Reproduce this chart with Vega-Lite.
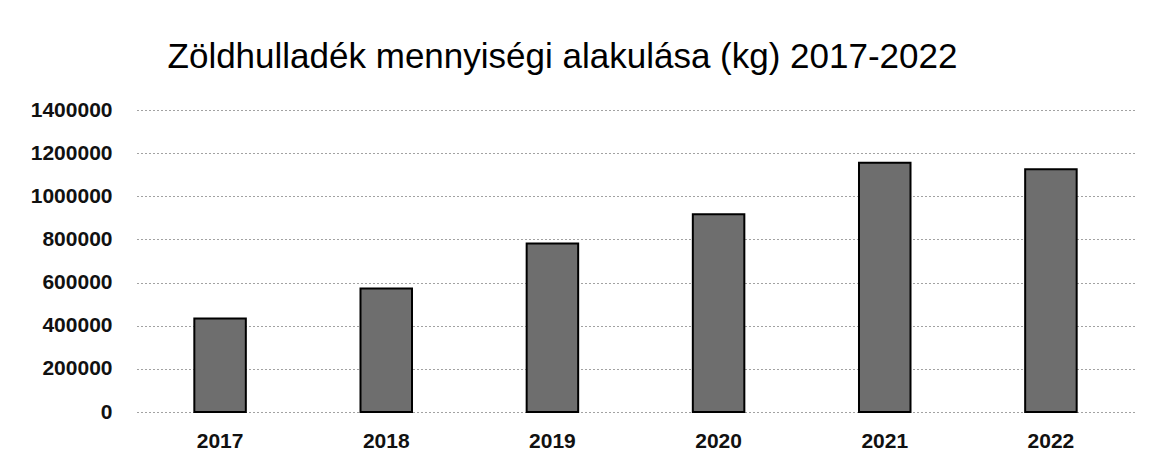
{
  "$schema": "https://vega.github.io/schema/vega-lite/v6.json",
  "autosize": {"type": "none"},
  "width": 997,
  "height": 302,
  "padding": {"left": 137, "top": 110, "right": 24, "bottom": 60},
  "background": "white",
  "title": {
    "text": "Zöldhulladék mennyiségi alakulása (kg) 2017-2022",
    "font": "Liberation Sans",
    "fontSize": 35,
    "fontWeight": "normal",
    "color": "#000000",
    "anchor": "middle",
    "dx": -73,
    "offset": 24
  },
  "data": {
    "values": [
      {"year": "2017", "kg": 433000},
      {"year": "2018", "kg": 572000},
      {"year": "2019", "kg": 781000},
      {"year": "2020", "kg": 917000},
      {"year": "2021", "kg": 1155000},
      {"year": "2022", "kg": 1125000}
    ]
  },
  "mark": {"type": "bar", "fill": "#6e6e6e", "stroke": "#000000", "strokeWidth": 2},
  "encoding": {
    "x": {
      "field": "year",
      "type": "ordinal",
      "scale": {"paddingInner": 0.69, "paddingOuter": 0.345},
      "axis": {
        "title": null,
        "labelAngle": 0,
        "ticks": false,
        "domain": false,
        "labelFont": "Liberation Sans",
        "labelFontSize": 21,
        "labelFontWeight": "bold",
        "labelColor": "#111111",
        "labelPadding": 18
      }
    },
    "y": {
      "field": "kg",
      "type": "quantitative",
      "scale": {"domain": [0, 1400000], "nice": false},
      "axis": {
        "title": null,
        "values": [0, 200000, 400000, 600000, 800000, 1000000, 1200000, 1400000],
        "format": "d",
        "ticks": false,
        "domain": false,
        "labelFont": "Liberation Sans",
        "labelFontSize": 21,
        "labelFontWeight": "bold",
        "labelColor": "#111111",
        "labelPadding": 25,
        "grid": true,
        "gridColor": "#444444",
        "gridDash": [1, 3],
        "gridWidth": 1
      }
    }
  },
  "config": {"view": {"stroke": null}}
}
